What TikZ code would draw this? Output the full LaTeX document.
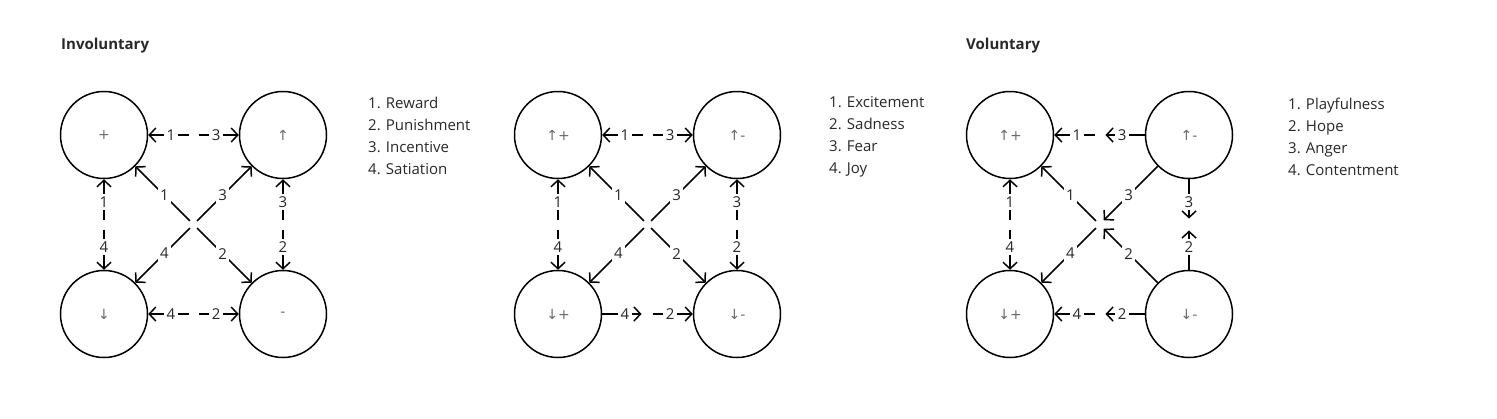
\documentclass[tikz,border=0pt]{standalone}
\usepackage{fontspec}
\setmainfont{Open Sans}
\newfontfamily\statefont{DejaVu Sans}
\usetikzlibrary{positioning,arrows.meta}
\definecolor{mytext}{RGB}{40,40,40}
\definecolor{mystate}{RGB}{105,105,105}

\begin{document}
\begin{tikzpicture}[x=1pt,y=-1pt,node distance=90.5pt,
  state/.style={draw,circle,line width=1.5pt,minimum size=87pt,inner sep=0pt,
    font=\statefont\fontsize{14}{16}\selectfont,text=mystate},
  lbl/.style={fill=white,inner sep=2.5pt,font=\fontsize{15}{17}\selectfont,text=mytext},
  arr/.style={line width=1.5pt,-{Straight Barb[length=6.5pt,width=14pt]}},
  fromhub/.style={arr,shorten <=5pt},
  tohub/.style={arr,shorten >=6pt},
  title/.style={font=\bfseries\fontsize{15}{17}\selectfont,anchor=base west,inner sep=0pt,text=mytext},
  legend/.style={font=\fontsize{15}{22}\selectfont,align=left,anchor=west,inner sep=0pt,text=mytext}]

  \useasboundingbox (0,0) rectangle (1497,418);

  % Involuntary
  \node[title] (A-title) at (61,49) {Involuntary};
  \node[state] (A1) at (104,135) {+};
  \node[state,right=of A1] (A2) {↑};
  \node[state,below=of A1] (A3) {↓};
  \node[state,below=of A2] (A4) {-};
  \node[legend] (A-key) at (368,136) {1. Reward\\2. Punishment\\3. Incentive\\4. Satiation};

  % second diagram
  \node[state] (B1) at (558,135) {↑+};
  \node[state,right=of B1] (B2) {↑-};
  \node[state,below=of B1] (B3) {↓+};
  \node[state,below=of B2] (B4) {↓-};
  \node[legend] (B-key) at (829,137) {1. Excitement\\2. Sadness\\3. Fear\\4. Joy};

  % Voluntary
  \node[title] (C-title) at (966,49) {Voluntary};
  \node[state] (C1) at (1010,135) {↑+};
  \node[state,right=of C1] (C2) {↑-};
  \node[state,below=of C1] (C3) {↓+};
  \node[state,below=of C2] (C4) {↓-};
  \node[legend] (C-key) at (1288,137) {1. Playfulness\\2. Hope\\3. Anger\\4. Contentment};

  % hubs between the circles
  \foreach \d in {A,B,C}{
    \path (\d1) -- coordinate (\d-t) (\d2)
          (\d3) -- coordinate (\d-b) (\d4)
          (\d1) -- coordinate (\d-l) (\d3)
          (\d2) -- coordinate (\d-r) (\d4)
          (\d1) -- coordinate (\d-c) (\d4);
    \draw[fromhub] (\d-l) -- node[lbl] {1} (\d1);
    \draw[fromhub] (\d-l) -- node[lbl] {4} (\d3);
    \draw[fromhub] (\d-c) -- node[lbl] {1} (\d1);
    \draw[fromhub] (\d-c) -- node[lbl] {4} (\d3);
    \draw[fromhub] (\d-t) -- node[lbl] {1} (\d1);
  }

  \foreach \d in {A,B}{
    \draw[fromhub] (\d-t) -- node[lbl] {3} (\d2);
    \draw[fromhub] (\d-r) -- node[lbl] {3} (\d2);
    \draw[fromhub] (\d-r) -- node[lbl] {2} (\d4);
    \draw[fromhub] (\d-c) -- node[lbl] {3} (\d2);
    \draw[fromhub] (\d-c) -- node[lbl] {2} (\d4);
    \draw[fromhub] (\d-b) -- node[lbl] {2} (\d4);
  }

  \draw[fromhub] (A-b) -- node[lbl] {4} (A3);
  \draw[tohub] (B3) -- node[lbl] {4} (B-b);

  \draw[tohub] (C2) -- node[lbl] {3} (C-t);
  \draw[tohub] (C2) -- node[lbl] {3} (C-r);
  \draw[tohub] (C4) -- node[lbl] {2} (C-r);
  \draw[tohub] (C2) -- node[lbl] {3} (C-c);
  \draw[tohub] (C4) -- node[lbl] {2} (C-c);
  \draw[tohub] (C4) -- node[lbl] {2} (C-b);
  \draw[fromhub] (C-b) -- node[lbl] {4} (C3);

\end{tikzpicture}
\end{document}
